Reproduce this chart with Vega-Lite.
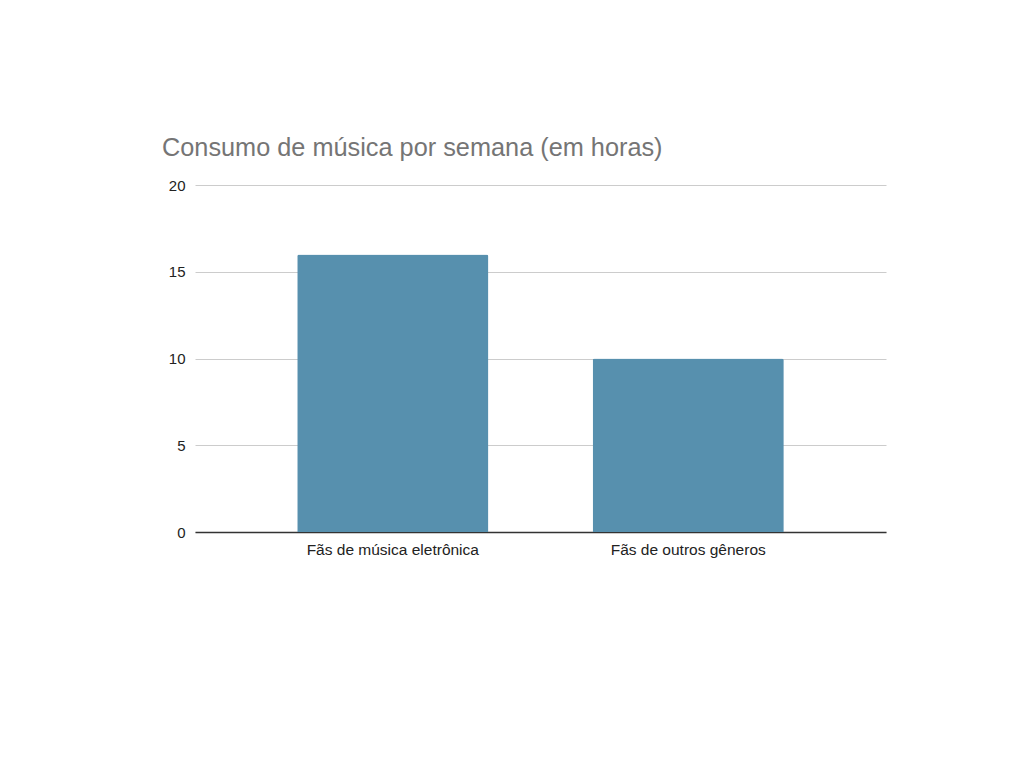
{
  "$schema": "https://vega.github.io/schema/vega-lite/v6.json",
  "autosize": {"type": "none"},
  "width": 691,
  "height": 347,
  "padding": {"left": 195, "top": 185, "right": 138, "bottom": 238},
  "background": "#ffffff",
  "title": {
    "text": "Consumo de música por semana (em horas)",
    "anchor": "start",
    "frame": "group",
    "dx": -33,
    "offset": 17,
    "font": "Liberation Sans",
    "fontSize": 25.3,
    "fontWeight": "normal",
    "color": "#757575"
  },
  "data": {
    "values": [
      {"grupo": "Fãs de música eletrônica", "horas": 16},
      {"grupo": "Fãs de outros gêneros", "horas": 10}
    ]
  },
  "mark": {"type": "bar", "color": "#5790AE", "cornerRadiusTopLeft": 2, "cornerRadiusTopRight": 2},
  "encoding": {
    "x": {
      "field": "grupo", "type": "nominal", "sort": null,
      "scale": {"paddingInner": 0.353, "paddingOuter": 0.346},
      "axis": {
        "title": null, "labelAngle": 0, "ticks": false,
        "domainColor": "#333333", "domainWidth": 1.5,
        "labelPadding": 10, "labelFontSize": 15.5, "labelFont": "Liberation Sans", "labelColor": "#222222"
      }
    },
    "y": {
      "field": "horas", "type": "quantitative",
      "scale": {"domain": [0, 20]},
      "axis": {
        "title": null, "values": [0, 5, 10, 15, 20], "ticks": false, "domain": false,
        "gridColor": "#cccccc", "labelPadding": 10,
        "labelFontSize": 15, "labelFont": "Liberation Sans", "labelColor": "#222222"
      }
    }
  },
  "config": {"view": {"stroke": null}}
}
